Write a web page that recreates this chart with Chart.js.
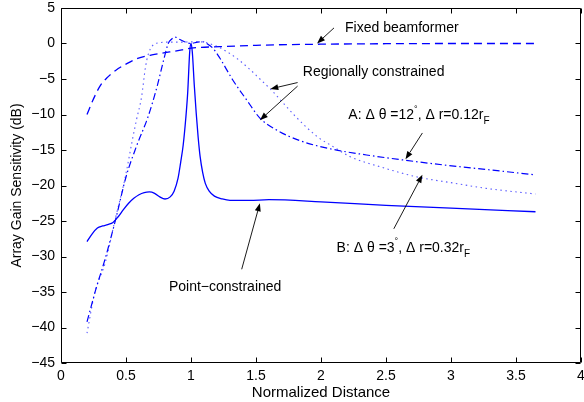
<!DOCTYPE html>
<html><head><meta charset="utf-8">
<script src="https://cdn.jsdelivr.net/npm/chart.js@4"></script>
<style>html,body{margin:0;padding:0;background:#fff}canvas{display:block}</style>
</head><body>
<canvas id="c" width="584" height="402"></canvas>
<script>
// ---- data ----
const xTicks = [0, 0.5, 1, 1.5, 2, 2.5, 3, 3.5, 4];
const yTicks = [-45, -40, -35, -30, -25, -20, -15, -10, -5, 0, 5];

const fixedX = [0.2, 0.25, 0.3, 0.35, 0.42, 0.51, 0.59, 0.7, 0.8, 0.93, 1.0, 1.22, 1.5, 2.0, 2.5, 3.0, 3.65];
const fixedY = [-10.0, -7.8, -6.0, -4.9, -3.8, -2.8, -2.1, -1.6, -1.3, -0.9, -0.65, -0.45, -0.25, -0.1, -0.03, 0, 0];

const pointX = [0.2, 0.24, 0.28, 0.32, 0.36, 0.4, 0.44, 0.48, 0.52, 0.56, 0.6, 0.64, 0.68, 0.72, 0.76, 0.8, 0.84, 0.87, 0.9, 0.92, 0.94, 0.96, 0.975, 0.99, 1.0, 1.01, 1.025, 1.04, 1.055, 1.07, 1.09, 1.11, 1.14, 1.18, 1.24, 1.3, 1.45, 1.6, 2.0, 2.5, 3.0, 3.65];
const pointY = [-27.9, -26.8, -26.0, -25.7, -25.5, -25.2, -24.4, -23.4, -22.5, -21.8, -21.3, -21.0, -20.9, -21.1, -21.6, -21.9, -21.6, -20.8, -19.0, -16.8, -14.3, -10.5, -6.8, -1.2, 0, -1.2, -5.8, -9.8, -13.2, -15.9, -18.2, -19.7, -20.8, -21.5, -21.9, -22.1, -22.1, -22.0, -22.3, -22.8, -23.2, -23.7];

const regAX = [0.2, 0.27, 0.34, 0.42, 0.5, 0.58, 0.67, 0.74, 0.79, 0.825, 0.85, 0.877, 0.91, 0.95, 1.0, 1.05, 1.09, 1.13, 1.17, 1.22, 1.32, 1.43, 1.53, 1.66, 1.84, 2.09, 2.35, 2.63, 2.94, 3.3, 3.65];
const regAY = [-39.2, -34.5, -30.3, -24.8, -18.8, -14.5, -10.3, -6.0, -2.3, 0, 0.6, 0.9, 0.6, 0.25, 0, 0.2, 0.25, -0.1, -0.7, -2.0, -5.1, -8.0, -10.5, -12.2, -13.7, -14.9, -15.7, -16.4, -17.1, -17.8, -18.5];

const regBX = [0.2, 0.26, 0.34, 0.415, 0.49, 0.55, 0.58, 0.62, 0.65, 0.67, 0.7, 0.75, 0.85, 0.95, 1.05, 1.12, 1.2, 1.28, 1.36, 1.45, 1.53, 1.61, 1.7, 1.8, 1.97, 2.1, 2.22, 2.48, 2.74, 3.0, 3.27, 3.65];
const regBY = [-40.8, -35.1, -30.9, -24.9, -19.2, -13.5, -10.8, -7.5, -3.3, -1.6, -0.4, 0.1, 0.2, 0.2, 0.25, 0.1, -0.4, -1.2, -2.2, -3.6, -5.0, -6.4, -8.2, -10.2, -13.1, -14.6, -15.9, -17.5, -18.8, -19.6, -20.4, -21.2];

const xTitle = "Normalized Distance";
const yTitle = "Array Gain Sensitivity (dB)";

// annotations in data coordinates
const textNotes = [
  {x: 2.185, y: 2.2, parts: [["Fixed beamformer", 0]]},
  {x: 1.86, y: -4.0, parts: [["Regionally constrained", 0]]},
  {x: 2.21, y: -10.1, parts: [["A: \u0394 \u03b8 =12", 0], ["\u00b0", 1], [", \u0394 r=0.12r", 0], ["F", -1]]},
  {x: 2.12, y: -28.8, parts: [["B: \u0394 \u03b8 =3", 0], ["\u00b0", 1], [", \u0394 r=0.32r", 0], ["F", -1]]},
  {x: 0.83, y: -34.3, parts: [["Point\u2212constrained", 0]]}
];
const arrowNotes = [
  [2.10, 2.2, 1.97, 0.0],
  [1.82, -5.5, 1.61, -6.4],
  [1.82, -6.0, 1.53, -10.8],
  [2.78, -12.6, 2.65, -16.3],
  [2.56, -26.1, 2.78, -18.5],
  [1.39, -31.8, 1.53, -22.5]
];

// ---- chart ----
const FONT = "'Liberation Sans', Arial, Helvetica, sans-serif";
const BLUE = 'rgb(0,0,255)';
const pts = (xs, ys) => xs.map((x, i) => ({x: x, y: ys[i]}));

const framePlugin = {
  id: 'frame',
  afterDraw(chart) {
    const ctx = chart.ctx, a = chart.chartArea;
    const xs = chart.scales.x, ys = chart.scales.y;
    ctx.save();
    ctx.strokeStyle = '#000';
    ctx.lineWidth = 1;
    const L = Math.round(a.left) + 0.5, R = Math.round(a.right) - 0.5;
    const T = Math.round(a.top) + 0.5, B = Math.round(a.bottom) - 0.5;
    ctx.beginPath();
    ctx.rect(L, T, R - L, B - T);
    ctx.stroke();
    const tl = 5;
    ctx.beginPath();
    xTicks.forEach(v => {
      const px = Math.round(xs.getPixelForValue(v)) + 0.5;
      ctx.moveTo(px, B); ctx.lineTo(px, B - tl);
      ctx.moveTo(px, T); ctx.lineTo(px, T + tl);
    });
    yTicks.forEach(v => {
      const py = Math.round(ys.getPixelForValue(v)) + 0.5;
      ctx.moveTo(L, py); ctx.lineTo(L + tl, py);
      ctx.moveTo(R, py); ctx.lineTo(R - tl, py);
    });
    ctx.stroke();

    // axis titles
    ctx.fillStyle = '#000';
    ctx.font = '15px ' + FONT;
    ctx.textAlign = 'center';
    ctx.textBaseline = 'alphabetic';
    ctx.fillText(xTitle, (a.left + a.right) / 2, 397);
    ctx.save();
    ctx.translate(21, (a.top + a.bottom) / 2);
    ctx.rotate(-Math.PI / 2);
    ctx.font = '14px ' + FONT;
    ctx.fillText(yTitle, 0, 0);
    ctx.restore();

    // annotations: text
    ctx.textAlign = 'left';
    ctx.textBaseline = 'middle';
    textNotes.forEach(n => {
      let px = xs.getPixelForValue(n.x);
      const py = ys.getPixelForValue(n.y);
      n.parts.forEach(([t, kind]) => {
        let dy = 0;
        if (kind === 0) ctx.font = '14px ' + FONT;
        else if (kind === 1) { ctx.font = '9px ' + FONT; dy = -6; }
        else { ctx.font = '10px ' + FONT; dy = 6; }
        ctx.fillText(t, px, py + dy);
        px += ctx.measureText(t).width;
      });
    });

    // annotations: arrows
    ctx.strokeStyle = '#000';
    ctx.fillStyle = '#000';
    ctx.lineWidth = 0.9;
    arrowNotes.forEach(([x1, y1, x2, y2]) => {
      const p1x = xs.getPixelForValue(x1), p1y = ys.getPixelForValue(y1);
      const p2x = xs.getPixelForValue(x2), p2y = ys.getPixelForValue(y2);
      const ang = Math.atan2(p2y - p1y, p2x - p1x);
      const hl = 8, hw = 3;
      const bx = p2x - hl * Math.cos(ang), by = p2y - hl * Math.sin(ang);
      ctx.beginPath();
      ctx.moveTo(p1x, p1y); ctx.lineTo(bx, by);
      ctx.stroke();
      ctx.beginPath();
      ctx.moveTo(p2x, p2y);
      ctx.lineTo(bx + hw * Math.sin(ang), by - hw * Math.cos(ang));
      ctx.lineTo(bx - hw * Math.sin(ang), by + hw * Math.cos(ang));
      ctx.closePath();
      ctx.fill();
    });
    ctx.restore();
  }
};

new Chart(document.getElementById('c'), {
  type: 'line',
  data: {
    datasets: [
      {label: 'Fixed beamformer', data: pts(fixedX, fixedY), borderColor: BLUE, borderWidth: 1.3, borderDash: [8, 5]},
      {label: 'Point-constrained', data: pts(pointX, pointY), borderColor: BLUE, borderWidth: 1.3},
      {label: 'Regionally constrained A', data: pts(regAX, regAY), borderColor: BLUE, borderWidth: 1.2, borderDash: [7, 3, 1.5, 3]},
      {label: 'Regionally constrained B', data: pts(regBX, regBY), borderColor: 'rgb(90,90,255)', borderWidth: 1.1, borderDash: [1.5, 3.5]}
    ]
  },
  options: {
    responsive: false,
    animation: false,
    devicePixelRatio: 1,
    layout: {padding: {top: 8, right: 3, left: 0, bottom: 0}},
    elements: {point: {radius: 0}, line: {cubicInterpolationMode: 'monotone', fill: false}},
    plugins: {legend: {display: false}, tooltip: {enabled: false}},
    scales: {
      x: {
        type: 'linear', min: 0, max: 4,
        afterFit: s => { s.height = 39; s.paddingLeft = 0; s.paddingRight = 0; },
        afterBuildTicks: s => { s.ticks = xTicks.map(v => ({value: v})); },
        grid: {display: false, drawTicks: false, tickLength: 0},
        border: {display: false},
        ticks: {color: '#000', font: {family: FONT, size: 14}, padding: 5, maxRotation: 0, autoSkip: false,
          callback: v => String(v)}
      },
      y: {
        type: 'linear', min: -45, max: 5,
        afterFit: s => { s.width = 61; s.paddingTop = 0; s.paddingBottom = 0; },
        afterBuildTicks: s => { s.ticks = yTicks.map(v => ({value: v})); },
        grid: {display: false, drawTicks: false, tickLength: 0},
        border: {display: false},
        ticks: {color: '#000', font: {family: FONT, size: 14}, padding: 6, autoSkip: false,
          callback: v => v < 0 ? '\u2212' + Math.abs(v) : String(v)}
      }
    }
  },
  plugins: [framePlugin]
});
</script>
</body></html>
